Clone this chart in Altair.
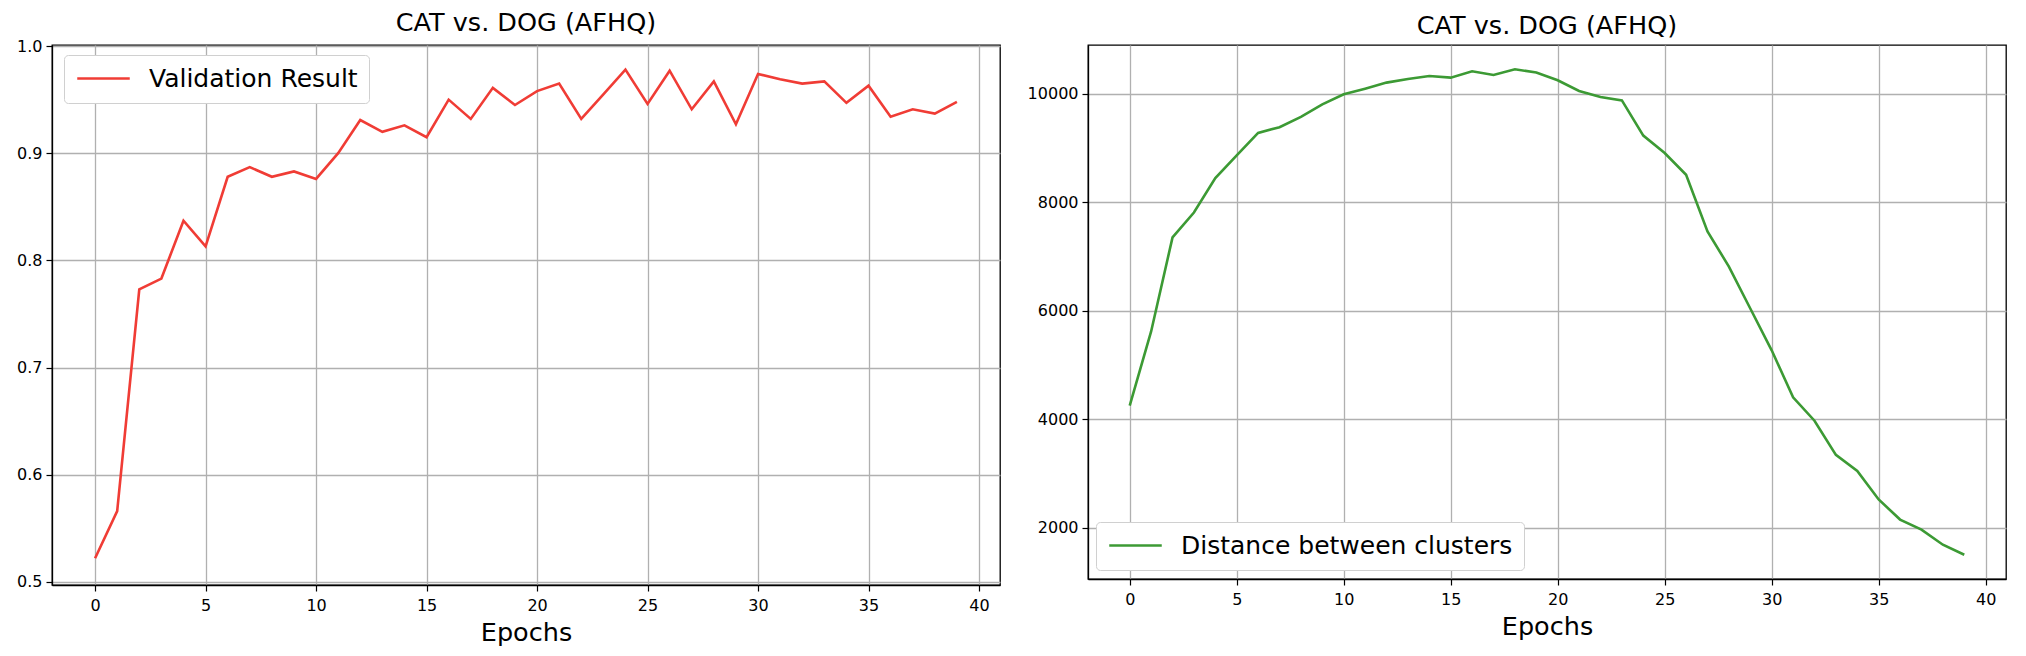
import altair as alt
import pandas as pd

epochs = list(range(40))
validation = [0.522, 0.566, 0.773, 0.783, 0.837, 0.813, 0.878, 0.887, 0.878, 0.883,
              0.876, 0.900, 0.931, 0.920, 0.926, 0.915, 0.950, 0.932, 0.961, 0.945,
              0.958, 0.965, 0.932, 0.955, 0.978, 0.946, 0.977, 0.941, 0.967, 0.927,
              0.974, 0.969, 0.965, 0.967, 0.947, 0.963, 0.934, 0.941, 0.937, 0.948]
distance = [4253, 5620, 7352, 7810, 8444, 8865, 9278, 9383, 9574, 9802,
            9988, 10093, 10204, 10272, 10327, 10296, 10413, 10346, 10450, 10389,
            10247, 10050, 9939, 9876, 9228, 8907, 8506, 7463, 6815, 6043,
            5272, 4407, 3975, 3346, 3049, 2525, 2154, 1969, 1691, 1506]
x_ticks = [0, 5, 10, 15, 20, 25, 30, 35, 40]
left_y_ticks = [0.5, 0.6, 0.7, 0.8, 0.9, 1.0]
right_y_ticks = [2000, 4000, 6000, 8000, 10000]
title_text = "CAT vs. DOG (AFHQ)"
left_label = "Validation Result"
right_label = "Distance between clusters"

FONT = "DejaVu Sans"

df_left = pd.DataFrame({"epoch": epochs, "value": validation, "series": left_label})
df_right = pd.DataFrame({"epoch": epochs, "value": distance, "series": right_label})

x_enc = alt.X("epoch:Q",
              scale=alt.Scale(domain=[-1.95, 40.95], nice=False, zero=False),
              axis=alt.Axis(values=x_ticks, title="Epochs", format="d"))

legend_common = dict(
    title=None, orient="none", symbolType="M-2.5,0L2.5,0", symbolSize=441,
    symbolStrokeWidth=2.6, symbolOffset=16, labelFontSize=25, labelFont=FONT,
    labelColor="black", fillColor="white", strokeColor="#d0d0d0", cornerRadius=4,
    padding=11, labelOffset=33, labelLimit=600,
)

left = alt.Chart(df_left).mark_line(strokeWidth=2.6).encode(
    x=x_enc,
    y=alt.Y("value:Q",
            scale=alt.Scale(domain=[0.497, 1.001], nice=False, zero=False),
            axis=alt.Axis(values=left_y_ticks, format=".1f", title=None)),
    color=alt.Color("series:N",
                    scale=alt.Scale(domain=[left_label], range=["#f03c35"]),
                    legend=alt.Legend(legendX=12, legendY=10, **legend_common)),
).properties(
    width=948, height=540,
    title=alt.TitleParams(title_text, fontSize=25.5, fontWeight="normal", font=FONT,
                          color="black", offset=2),
)

right = alt.Chart(df_right).mark_line(strokeWidth=2.6).encode(
    x=x_enc,
    y=alt.Y("value:Q",
            scale=alt.Scale(domain=[1059, 10897], nice=False, zero=False),
            axis=alt.Axis(values=right_y_ticks, format="d", title=None)),
    color=alt.Color("series:N",
                    scale=alt.Scale(domain=[right_label], range=["#3c9a34"]),
                    legend=alt.Legend(legendX=8, legendY=477, **legend_common)),
).properties(
    width=918, height=534,
    title=alt.TitleParams(title_text, fontSize=25.5, fontWeight="normal", font=FONT,
                          color="black", offset=6),
)

chart = alt.hconcat(left, right, spacing=25).resolve_scale(color="independent").properties(
    padding={"left": 7, "top": 1, "right": 5, "bottom": 5}
).configure_view(
    stroke="black", strokeWidth=1.3
).configure_axis(
    labelFont=FONT, labelFontSize=16, labelColor="black", labelPadding=4,
    tickColor="black", tickSize=6, tickWidth=1.2,
    domainColor="black", domainWidth=1.3,
    gridColor="#b0b0b0", gridWidth=1.3,
    titleFont=FONT, titleFontSize=25.5, titleFontWeight="normal", titleColor="black",
    titlePadding=7,
).configure_axisX(
    labelPadding=6
)

chart.save("out.html", embed_options={"renderer": "svg", "actions": False})
